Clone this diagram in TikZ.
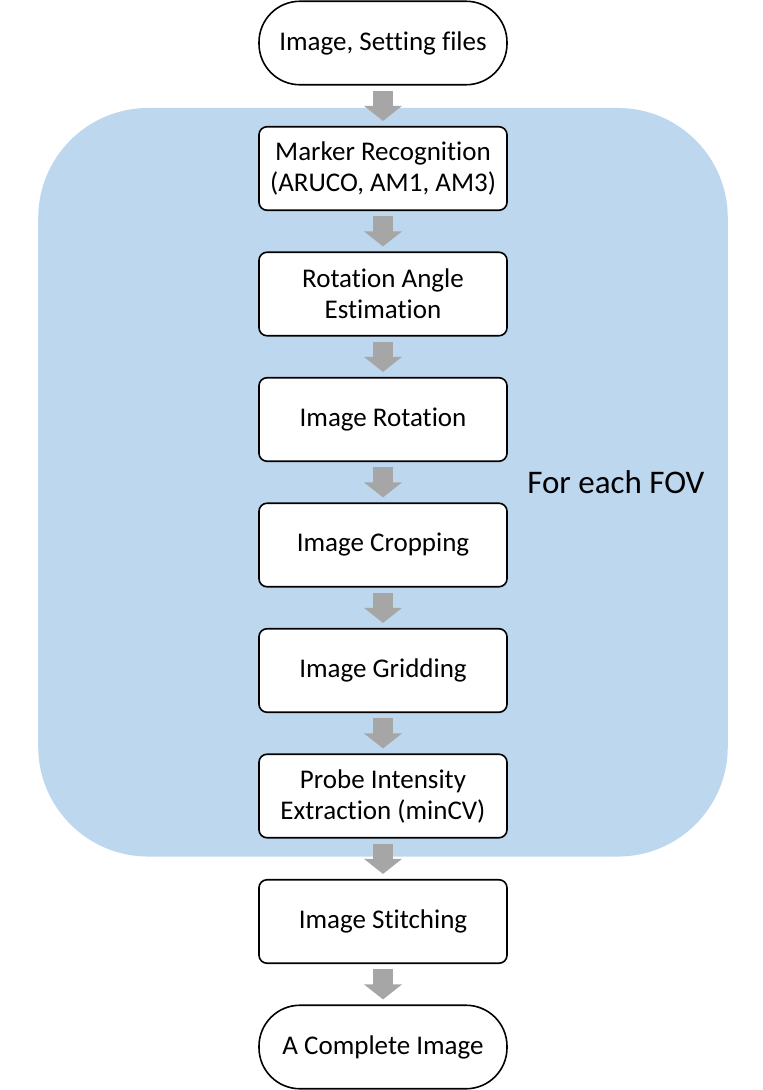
\documentclass[tikz,border=0pt]{standalone}
\usepackage{fontspec}
\setmainfont{Carlito}[Ligatures=NoCommon]
\usepackage{tikz}
\usetikzlibrary{positioning,fit,backgrounds,arrows.meta}

\definecolor{fovblue}{HTML}{BDD7EE}
\definecolor{flowgray}{HTML}{A6A6A6}

\begin{document}
\begin{tikzpicture}[x=1pt,y=-1pt,node distance=40.4pt]
 \tikzstyle{procnode} = [draw=black,line width=1.6pt,fill=white,rounded corners=8pt,
   minimum width=248pt,minimum height=83.5pt,align=center,font=\fontsize{27}{31}\selectfont]
 \tikzstyle{termnode} = [procnode,rounded corners=41pt]
 \tikzstyle{flow} = [flowgray,line width=20pt,-{Triangle[width=37pt,length=15pt]},
   shorten <=5pt,shorten >=5pt]

  \useasboundingbox (0,0) rectangle (763,1090);

  % Steps
  \node[termnode] (input) at (383,43) {Image, Setting files};
  \node[procnode,below=of input] (marker) {Marker Recognition\\(ARUCO, AM1, AM3)};
  \node[procnode,below=of marker] (angle) {Rotation Angle\\Estimation};
  \node[procnode,below=of angle] (rotate) {Image Rotation};
  \node[procnode,below=of rotate] (crop) {Image Cropping};
  \node[procnode,below=of crop] (grid) {Image Gridding};
  \node[procnode,below=of grid] (probe) {Probe Intensity\\Extraction (minCV)};
  \node[procnode,below=of probe] (stitch) {Image Stitching};
  \node[termnode,below=of stitch] (output) {A Complete Image};

  % Loop region behind
  \begin{scope}[on background layer]
    \node[fill=fovblue,rounded corners=110pt,inner xsep=220pt,inner ysep=18pt,
      fit=(marker)(probe)] (fov) {};
  \end{scope}
  \node[left=20pt of fov.east,font=\fontsize{33}{39}\selectfont] (fovlabel) {For each FOV};

  % Arrows
  \foreach \a/\b in {input/marker,marker/angle,angle/rotate,rotate/crop,
    crop/grid,grid/probe,probe/stitch,stitch/output}
    \draw[flow] (\a.south) -- (\b.north);

\end{tikzpicture}
\end{document}
